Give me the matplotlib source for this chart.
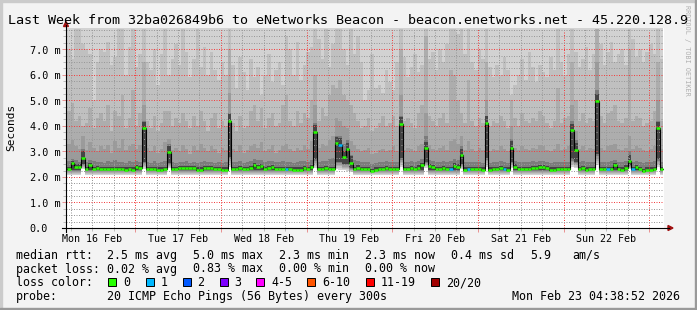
import numpy as np
import matplotlib
matplotlib.use("Agg")
import matplotlib.pyplot as plt
from matplotlib.lines import Line2D
from matplotlib.patches import Polygon, Rectangle

# hourly columns, Mon 16 Feb ~04:40 -> Mon 23 Feb 04:38 (ms)
median_ms = [
    2.30, 2.54, 2.39, 2.39, 2.76, 2.30, 2.45, 2.30, 2.33, 2.30,
    2.30, 2.30, 2.30, 2.30, 2.30, 2.30, 2.27, 2.30, 2.27, 2.37,
    2.33, 3.90, 2.30, 2.30, 2.30, 2.27, 2.27, 2.30, 2.97, 2.30,
    2.30, 2.33, 2.33, 2.33, 2.33, 2.33, 2.27, 2.27, 2.33, 2.33,
    2.33, 2.30, 2.30, 2.27, 2.27, 4.20, 2.30, 2.30, 2.33, 2.30,
    2.30, 2.33, 2.45, 2.37, 2.41, 2.30, 2.33, 2.37, 2.30, 2.30,
    2.30, 2.30, 2.30, 2.27, 2.27, 2.27, 2.33, 2.30, 2.37, 3.77,
    2.30, 2.30, 2.33, 2.30, 2.30, 3.33, 3.26, 2.78, 3.09, 2.55,
    2.30, 2.35, 2.30, 2.30, 2.30, 2.22, 2.27, 2.30, 2.30, 2.33,
    2.30, 2.30, 2.30, 4.09, 2.30, 2.30, 2.33, 2.30, 2.35, 2.45,
    3.12, 2.41, 2.37, 2.30, 2.30, 2.33, 2.30, 2.30, 2.43, 2.39,
    2.84, 2.27, 2.30, 2.30, 2.30, 2.30, 2.27, 4.12, 2.27, 2.30,
    2.30, 2.33, 2.30, 2.27, 3.15, 2.39, 2.30, 2.30, 2.30, 2.30,
    2.33, 2.33, 2.37, 2.37, 2.33, 2.27, 2.27, 2.30, 2.30, 2.30,
    2.30, 3.83, 3.06, 2.30, 2.33, 2.27, 2.30, 2.30, 4.99, 2.30,
    2.30, 2.30, 2.30, 2.45, 2.30, 2.27, 2.35, 2.61, 2.30, 2.37,
    2.30, 2.22, 2.27, 2.27, 2.30, 3.90, 2.30,
]
loss1_cols = [61, 76, 107, 112, 122, 151, 158]

# smoke band tops (light -> dark)
smoke_a = [
    7.0, 6.6, 7.8, 7.8, 7.2, 7.0, 6.8, 5.0, 6.5, 7.0,
    6.9, 7.3, 6.4, 6.7, 7.8, 7.8, 6.0, 7.1, 7.8, 6.3,
    6.8, 7.8, 6.5, 6.2, 7.0, 5.6, 6.8, 7.8, 6.0, 6.6,
    7.2, 6.4, 7.8, 6.9, 5.9, 6.6, 7.8, 6.3, 7.1, 6.0,
    6.9, 6.2, 5.8, 6.5, 6.0, 7.8, 6.4, 5.5, 6.7, 6.1,
    5.4, 6.6, 5.9, 6.3, 5.2, 6.0, 6.8, 5.7, 6.2, 6.5,
    5.6, 7.5, 7.0, 6.0, 7.3, 5.8, 6.4, 6.9, 7.1, 7.8,
    7.4, 6.6, 7.8, 6.3, 7.2, 7.8, 7.8, 7.0, 6.4, 7.8,
    6.8, 7.5, 6.5, 5.0, 5.4, 6.8, 5.5, 5.6, 5.3, 6.2,
    5.7, 5.4, 6.5, 7.8, 6.7, 5.9, 6.3, 6.8, 6.1, 6.4,
    7.8, 6.6, 6.9, 6.2, 7.0, 6.5, 7.2, 7.8, 7.8, 7.6,
    7.8, 6.8, 7.8, 6.5, 6.2, 7.0, 6.6, 7.8, 6.3, 5.9,
    6.4, 6.0, 6.7, 6.2, 5.2, 5.6, 6.0, 6.6, 5.8, 6.9,
    6.3, 5.7, 6.4, 6.1, 5.9, 6.7, 6.2, 7.8, 6.5, 6.0,
    6.8, 7.8, 6.9, 6.3, 6.6, 7.1, 6.2, 6.8, 7.8, 7.2,
    6.4, 6.9, 7.3, 6.5, 6.8, 7.0, 6.4, 7.8, 7.4, 6.7,
    7.0, 6.5, 6.9, 7.2, 6.8, 7.8, 6.6,
]
smoke_b = [
    4.60, 4.90, 4.20, 4.40, 4.00, 4.10, 4.70, 3.90, 4.30, 4.50,
    4.20, 4.80, 3.80, 4.60, 4.40, 5.20, 3.90, 4.30, 5.40, 4.00,
    4.50, 6.50, 4.20, 3.90, 4.40, 3.80, 4.10, 4.60, 4.60, 4.00,
    4.30, 4.10, 4.50, 4.20, 3.90, 4.40, 4.00, 4.60, 4.20, 3.80,
    4.30, 4.50, 3.90, 4.20, 4.00, 7.00, 4.10, 3.80, 4.40, 3.90,
    4.00, 4.60, 4.80, 4.20, 4.70, 3.90, 4.30, 4.50, 4.00, 4.10,
    4.80, 5.20, 4.20, 4.00, 4.60, 4.10, 4.50, 4.30, 5.00, 6.00,
    4.20, 4.70, 4.40, 5.20, 5.60, 5.50, 5.80, 5.20, 5.00, 4.80,
    4.50, 4.20, 3.90, 4.00, 4.30, 3.80, 3.90, 4.10, 4.40, 4.00,
    4.10, 4.40, 4.00, 7.00, 4.20, 4.30, 4.10, 3.90, 4.50, 4.80,
    7.50, 4.40, 4.20, 4.00, 4.30, 4.50, 4.10, 6.20, 6.00, 5.00,
    4.50, 4.10, 5.80, 4.20, 4.00, 4.30, 4.10, 6.50, 4.00, 4.20,
    4.10, 4.40, 4.20, 3.90, 5.00, 4.30, 4.00, 4.50, 4.20, 4.10,
    4.30, 4.20, 4.60, 4.40, 4.10, 3.90, 4.20, 5.50, 4.10, 4.30,
    4.40, 6.50, 5.00, 4.20, 4.50, 4.10, 4.30, 4.20, 7.80, 4.40,
    4.10, 4.50, 4.60, 4.80, 4.20, 4.10, 4.30, 7.00, 4.20, 4.40,
    4.30, 4.00, 4.10, 4.20, 4.60, 6.50, 4.20,
]
smoke_c = [
    3.30, 3.45, 3.20, 3.10, 3.60, 3.05, 3.35, 3.15, 3.00, 3.20,
    3.10, 3.25, 2.95, 3.40, 3.15, 3.50, 3.05, 3.20, 3.30, 3.10,
    3.25, 4.80, 3.15, 3.00, 3.20, 2.95, 3.10, 3.35, 3.50, 3.05,
    3.15, 3.00, 3.25, 3.10, 2.90, 3.20, 3.05, 3.30, 3.15, 3.00,
    3.20, 3.10, 2.95, 3.15, 3.05, 5.30, 3.10, 3.00, 3.25, 2.95,
    3.05, 3.20, 3.30, 3.15, 3.35, 3.00, 3.10, 3.25, 2.95, 3.05,
    3.20, 3.30, 3.10, 3.00, 3.15, 3.05, 3.25, 3.10, 3.40, 4.80,
    3.15, 3.30, 3.20, 3.45, 3.60, 4.30, 4.20, 4.00, 3.90, 3.40,
    3.25, 3.10, 3.00, 3.05, 3.15, 2.90, 2.95, 3.05, 3.10, 3.00,
    3.05, 3.20, 3.00, 5.20, 3.05, 3.15, 3.10, 3.00, 3.20, 3.30,
    4.50, 3.25, 3.10, 3.05, 3.15, 3.20, 3.05, 3.40, 3.50, 3.30,
    3.60, 3.05, 3.40, 3.10, 3.00, 3.15, 3.05, 5.00, 3.00, 3.10,
    3.05, 3.20, 3.10, 3.00, 4.00, 3.15, 3.05, 3.20, 3.10, 3.05,
    3.15, 3.10, 3.25, 3.20, 3.05, 3.00, 3.10, 3.30, 3.05, 3.10,
    3.20, 4.80, 3.80, 3.10, 3.20, 3.05, 3.15, 3.10, 6.50, 3.15,
    3.05, 3.20, 3.25, 3.30, 3.10, 3.05, 3.15, 3.60, 3.10, 3.20,
    3.15, 3.05, 3.00, 3.10, 3.20, 5.00, 3.10,
]
smoke_d = [
    2.62, 2.70, 2.66, 2.60, 3.10, 2.58, 2.68, 2.62, 2.57, 2.60,
    2.55, 2.63, 2.58, 2.66, 2.60, 2.57, 2.54, 2.62, 2.58, 2.64,
    2.60, 4.20, 2.58, 2.55, 2.61, 2.56, 2.59, 2.63, 3.30, 2.58,
    2.55, 2.60, 2.57, 2.62, 2.56, 2.59, 2.54, 2.58, 2.61, 2.57,
    2.60, 2.56, 2.59, 2.55, 2.58, 4.50, 2.57, 2.60, 2.62, 2.56,
    2.58, 2.63, 2.70, 2.66, 2.68, 2.60, 2.62, 2.64, 2.57, 2.59,
    2.62, 2.58, 2.60, 2.55, 2.57, 2.61, 2.63, 2.58, 2.66, 4.10,
    2.60, 2.62, 2.64, 2.70, 2.75, 3.60, 3.60, 3.30, 3.45, 2.85,
    2.65, 2.62, 2.58, 2.57, 2.60, 2.52, 2.55, 2.58, 2.60, 2.62,
    2.58, 2.60, 2.57, 4.40, 2.58, 2.60, 2.62, 2.57, 2.64, 2.70,
    3.60, 2.68, 2.64, 2.58, 2.60, 2.62, 2.58, 2.62, 2.70, 2.66,
    3.20, 2.58, 2.60, 2.57, 2.59, 2.60, 2.56, 4.40, 2.55, 2.58,
    2.60, 2.62, 2.58, 2.56, 3.50, 2.64, 2.58, 2.60, 2.57, 2.59,
    2.62, 2.60, 2.64, 2.62, 2.60, 2.56, 2.57, 2.60, 2.58, 2.59,
    2.60, 4.20, 3.45, 2.60, 2.62, 2.57, 2.60, 2.58, 5.40, 2.60,
    2.58, 2.60, 2.62, 2.68, 2.60, 2.57, 2.62, 3.00, 2.60, 2.64,
    2.60, 2.55, 2.57, 2.58, 2.62, 4.20, 2.60,
]

# columns where all pings were high (white gap under the smoke)
spike_cols = [4, 21, 28, 45, 69, 75, 76, 77, 78, 79, 93, 100, 110, 117, 124, 141, 142, 148, 157, 165]
spike_min = [2.32, 2.32, 2.34, 2.39, 2.35, 2.30, 2.28, 2.26, 2.24, 2.20,
             2.38, 2.36, 2.30, 2.40, 2.35, 2.40, 2.35, 2.45, 2.30, 2.40]
spike_dark = [2.50, 2.60, 2.55, 2.78, 2.70, 2.60, 2.60, 2.50, 2.50, 2.35,
              2.75, 2.60, 2.50, 2.75, 2.60, 2.70, 2.60, 2.90, 2.45, 2.70]

day_labels = ["Mon 16 Feb", "Tue 17 Feb", "Wed 18 Feb", "Thu 19 Feb",
              "Fri 20 Feb", "Sat 21 Feb", "Sun 22 Feb"]
first_midnight = 19.08  # hours after first column start

stat_rows = [
    ("median rtt:", ["2.5 ms avg", "5.0 ms max", "2.3 ms min", "2.3 ms now", "0.4 ms sd", "5.9", "am/s"]),
    ("packet loss:", ["0.02 % avg", "0.83 % max", "0.00 % min", "0.00 % now"]),
]
loss_labels = ["0", "1", "2", "3", "4-5", "6-10", "11-19", "20/20"]
loss_colors = ["#26ff00", "#00b8ff", "#0059ff", "#7e00ff", "#ff00ff", "#ff5500", "#ff0000", "#a10000"]

W, H = 697, 310
MONO = "DejaVu Sans Mono"


def fx(px):
    return px / W


def fy(py):
    return 1 - py / H


fig = plt.figure(figsize=(W / 100, H / 100), dpi=100, facecolor="#f3f3f3")
ax = fig.add_axes([fx(66), fy(228), 598 / W, 200 / H])
ax.set_facecolor("white")

n = len(median_ms)
xs = np.arange(n + 1)
med = np.array(median_ms)
lo = np.full(n, 2.08)
dark_lo = np.full(n, 2.26)
is_spike = np.zeros(n, bool)
for c, m, d in zip(spike_cols, spike_min, spike_dark):
    lo[c] = m
    dark_lo[c] = d
    is_spike[c] = True

top_e = np.minimum(med + np.where(is_spike, 0.25, 0.10), np.array(smoke_d))
tops = [np.full(n, 9.0), np.array(smoke_a), np.array(smoke_b),
        np.array(smoke_c), np.array(smoke_d), top_e]
shades = ["#d2d2d2", "#c0c0c0", "#adadad", "#9b9b9b", "#7c7c7c", "#454545"]
fracs = [0.0, 0.2, 0.4, 0.6, 0.8, 1.0]

for top, shade, f in zip(tops, shades, fracs):
    bottom = lo + f * (dark_lo - lo)
    ax.fill_between(xs, np.append(bottom, bottom[-1]), np.append(top, top[-1]),
                    step="post", color=shade, lw=0, zorder=1)

# median: thin dark step line then loss-coloured segments
ax.step(xs, np.append(med, med[-1]), where="post", color="black", lw=0.8, zorder=3)
seg_colors = [loss_colors[1] if i in loss1_cols else loss_colors[0] for i in range(n)]
ax.hlines(med, xs[:-1], xs[1:], colors=seg_colors, lw=1.8, zorder=4)

ax.set_xlim(-0.28, 167.2)
ax.set_ylim(0, 7.83)

midnights = first_midnight + 24 * np.arange(7)
six_h = np.arange(first_midnight - 18, 167.2, 6)
ax.set_xticks(midnights)
ax.set_xticks(six_h, minor=True)
ax.set_yticks(np.arange(0, 8, 1.0))
ax.set_yticks(np.arange(0, 7.83, 0.25), minor=True)
ax.set_xticklabels([])
ax.set_yticklabels([])
ax.set_axisbelow(False)
dots = (0, (1, 1.5))
ax.grid(which="minor", color=(0.6, 0.6, 0.6, 0.3), ls=dots, lw=0.72, zorder=2.5)
ax.grid(which="major", color=(0.95, 0.25, 0.25, 0.3), ls=dots, lw=0.72, zorder=2.6)
ax.tick_params(axis="x", which="major", length=3, width=0.7, color="#e89090", direction="out")
ax.tick_params(axis="x", which="minor", length=2, width=0.7, color="#bbbbbb", direction="out")
ax.tick_params(axis="y", which="major", length=3, width=0.7, color="#e89090", direction="out")
ax.tick_params(axis="y", which="minor", length=2, width=0.7, color="#bbbbbb", direction="out")
for s in ax.spines.values():
    s.set_visible(False)

# axis lines with arrows
fig.add_artist(Line2D([fx(62), fx(669)], [fy(228), fy(228)], color="black", lw=0.8))
fig.add_artist(Line2D([fx(66), fx(66)], [fy(232), fy(25)], color="black", lw=0.8))
fig.add_artist(Polygon([(fx(668), fy(225.5)), (fx(668), fy(230.5)), (fx(673), fy(228))],
                       closed=True, color="#a01010", transform=fig.transFigure))
fig.add_artist(Polygon([(fx(63.5), fy(26.5)), (fx(68.5), fy(26.5)), (fx(66), fy(21.5))],
                       closed=True, color="#a01010", transform=fig.transFigure))

# axis labels
for i, lab in enumerate(day_labels):
    xp = 67 + 3.57 * (first_midnight - 12 + 24 * i)
    fig.text(fx(xp), fy(241.5), lab, ha="center", va="baseline", family=MONO, fontsize=7.2)
for v in range(8):
    yp = 228 - v * 25.53
    lab = "0.0" if v == 0 else "%.1f m" % v
    fig.text(fx(29.5), fy(yp + 4.3), lab, ha="left", va="baseline", family=MONO, fontsize=7.3)
fig.text(fx(11), fy(127), "Seconds", rotation=90, ha="center", va="center", family=MONO, fontsize=8)

fig.text(fx(348.5), fy(23.5), "Last Week from 32ba026849b6 to eNetworks Beacon - beacon.enetworks.net - 45.220.128.9",
         ha="center", va="baseline", family=MONO, fontsize=9.6)
fig.text(fx(687.5), fy(5), "RRDTOOL / TOBI OETIKER", rotation=270, ha="center", va="top",
         family=MONO, fontsize=4.9, color="#b0b0b0")

# legend block
col_x = [107, 193, 279, 365, 451, 530, 572]
base_y = [259, 272.5]
for (head, items), by in zip(stat_rows, base_y):
    fig.text(fx(16), fy(by), head, ha="left", va="baseline", family=MONO, fontsize=8.4)
    for xp, t in zip(col_x, items):
        fig.text(fx(xp), fy(by), t, ha="left", va="baseline", family=MONO, fontsize=8.4)

fig.text(fx(16), fy(286), "loss color:", ha="left", va="baseline", family=MONO, fontsize=8.4)
box_x = [108, 146, 182.5, 219.5, 256, 307, 366, 431]
for bx, lab, col in zip(box_x, loss_labels, loss_colors):
    fig.add_artist(Rectangle((fx(bx), fy(286)), 8 / W, 8 / H, facecolor=col,
                             edgecolor="black", lw=0.7, transform=fig.transFigure))
    fig.text(fx(bx + 15), fy(286), lab, ha="left", va="baseline", family=MONO, fontsize=8.4)

fig.text(fx(16), fy(299.7), "probe:", ha="left", va="baseline", family=MONO, fontsize=8.4)
fig.text(fx(107), fy(299.7), "20 ICMP Echo Pings (56 Bytes) every 300s",
         ha="left", va="baseline", family=MONO, fontsize=8.4)
fig.text(fx(680), fy(299.7), "Mon Feb 23 04:38:52 2026", ha="right", va="baseline",
         family=MONO, fontsize=8.4)

# 3d frame
fig.add_artist(Rectangle((0, fy(2)), 1, 2 / H, color="#cbcbcb", transform=fig.transFigure))
fig.add_artist(Rectangle((0, 0), 2 / W, 1, color="#cbcbcb", transform=fig.transFigure))
fig.add_artist(Rectangle((0, 0), 1, 2 / H, color="#999999", transform=fig.transFigure))
fig.add_artist(Rectangle((fx(695), 0), 2 / W, 1, color="#999999", transform=fig.transFigure))

fig.savefig("out.png", dpi=100, facecolor=fig.get_facecolor())
